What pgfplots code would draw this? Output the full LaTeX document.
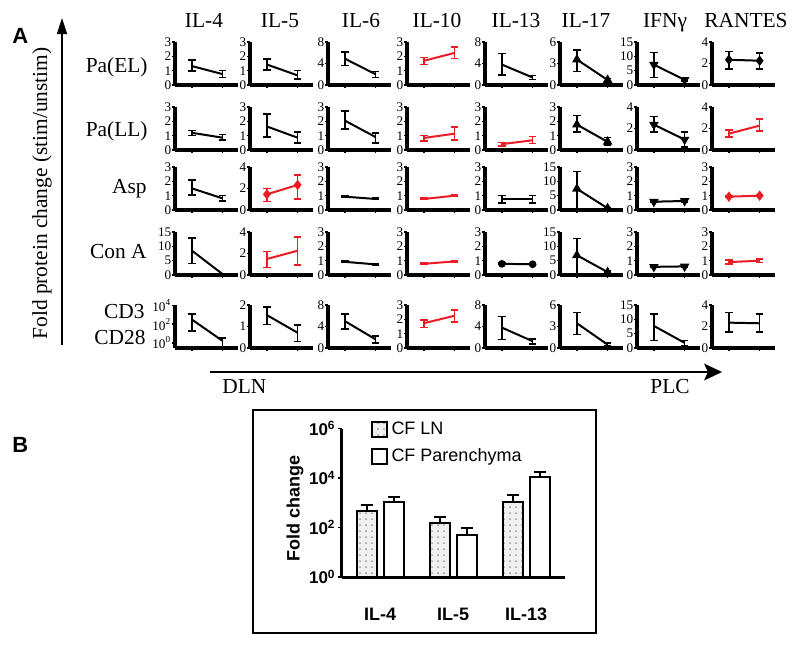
\documentclass[border=0pt]{standalone}
\usepackage{fontspec}
\setmainfont{Liberation Serif}
\setsansfont{Liberation Sans}
\usepackage{pgfplots}
\pgfplotsset{compat=1.18}
\usetikzlibrary{patterns,arrows.meta}
\definecolor{myred}{RGB}{236,28,36}

\pgfplotsset{
 smallax/.style={
  scale only axis, width=31.5pt, height=21.5pt, anchor=south west,
  axis lines=left, axis line style={-, line width=1.6pt},
  xmin=0.45, xmax=2.5, ymin=0, clip=false,
  xtick={1,2}, xticklabels={},
  tick align=outside, major tick length=1.5pt,
  every tick/.style={black, line width=0.8pt},
  yticklabel style={font=\fontsize{6.6}{7}\selectfont, inner sep=0.2pt},
  /pgf/number format/assume math mode=true,
 },
 dat/.style={line width=1pt, mark size=1.8pt, mark options={solid},
   error bars/y dir=both, error bars/y explicit,
   error bars/error bar style={line width=0.8pt, solid},
   error bars/error mark options={rotate=90, mark size=1.8pt, line width=0.8pt}},
 tdown/.style={mark=triangle*, mark options={rotate=180}},
}
\newcommand{\pnl}[6]{%
 \begin{axis}[smallax, at={(#1*0.5pt,-#2*0.5pt)}, ymax=#3, ytick={#4}]
 \addplot[dat, #5] coordinates {#6};
 \end{axis}}

\begin{document}
\begin{tikzpicture}
\path[use as bounding box] (0,0) rectangle (400pt,-322.5pt);

% ---------- Panel A texts ----------
\node[anchor=base west, font=\sffamily\bfseries\fontsize{11}{12}\selectfont, inner sep=0pt] at (6pt,-21.5pt) {A};
\node[anchor=base west, font=\sffamily\bfseries\fontsize{11}{12}\selectfont, inner sep=0pt] at (6pt,-226pt) {B};

\begin{scope}[every node/.style={font=\fontsize{10.7}{12}\selectfont, inner sep=0pt}]
\node[anchor=base] at (102pt,-13.5pt) {IL-4};
\node[anchor=base] at (140pt,-13.5pt) {IL-5};
\node[anchor=base] at (180.5pt,-13.5pt) {IL-6};
\node[anchor=base] at (218.5pt,-13.5pt) {IL-10};
\node[anchor=base] at (258pt,-13.5pt) {IL-13};
\node[anchor=base] at (293pt,-13.5pt) {IL-17};
\node[anchor=base] at (332.5pt,-13.5pt) {IFNγ};
\node[anchor=base] at (373pt,-13.5pt) {RANTES};
\node[anchor=base east] at (74pt,-36pt) {Pa(EL)};
\node[anchor=base east] at (74pt,-68pt) {Pa(LL)};
\node[anchor=base east] at (73.5pt,-96.5pt) {Asp};
\node[anchor=base east] at (73.5pt,-129pt) {Con A};
\node[anchor=base east] at (72.5pt,-159pt) {CD3};
\node[anchor=base east] at (73pt,-172pt) {CD28};
\node[rotate=90] at (21pt,-96.75pt) {Fold protein change (stim/unstim)};
\node[anchor=base west] at (111pt,-196.5pt) {DLN};
\node[anchor=base west] at (325pt,-196.5pt) {PLC};
\end{scope}
\draw[line width=0.75pt, -{Triangle[length=8pt,width=5pt]}] (31pt,-172.5pt) -- (31pt,-9pt);
\draw[line width=0.75pt, -{Stealth[length=9pt,width=8.5pt,inset=2pt]}] (105pt,-186pt) -- (361pt,-186pt);

% ---------- Row 1: Pa(EL) ----------
\pnl{175}{85}{3}{0,1,2,3}{black}{(1,1.32) += (0,0.41) -= (0,0.35) (2,0.76) += (0,0.24) -= (0,0.23)}
\pnl{250}{85}{3}{0,1,2,3}{black}{(1,1.43) += (0,0.39) -= (0,0.39) (2,0.67) += (0,0.33) -= (0,0.27)}
\pnl{328}{85}{8}{0,4,8}{black}{(1,4.9) += (0,1.25) -= (0,1.3) (2,2.0) += (0,0.5) -= (0,0.6)}
\pnl{407}{85}{3}{0,1,2,3}{myred}{(1,1.69) += (0,0.23) -= (0,0.26) (2,2.24) += (0,0.41) -= (0,0.39)}
\pnl{485}{85}{8}{0,4,8}{black}{(1,3.8) += (0,2.05) -= (0,1.95) (2,1.4) += (0,0.4) -= (0,0.35)}
\pnl{560}{85}{6}{0,3,6}{black, mark=triangle*}{(1,3.55) += (0,1.35) -= (0,1.65) (2,0.7) += (0,0.2) -= (0,0.2)}
\pnl{637}{85}{15}{0,5,10,15}{black, tdown}{(1,7.1) += (0,4.2) -= (0,4.5) (2,1.8) += (0,0.4) -= (0,0.4)}
\pnl{712}{85}{4}{0,2,4}{black, mark=diamond*}{(1,2.35) += (0,0.75) -= (0,0.85) (2,2.26) += (0,0.7) -= (0,0.76)}

% ---------- Row 2: Pa(LL) ----------
\pnl{175}{150}{3}{0,1,2,3}{black}{(1,1.2) += (0,0.16) -= (0,0.18) (2,0.86) += (0,0.21) -= (0,0.18)}
\pnl{250}{150}{3}{0,1,2,3}{black}{(1,1.64) += (0,0.86) -= (0,0.74) (2,0.86) += (0,0.39) -= (0,0.36)}
\pnl{328}{150}{3}{0,1,2,3}{black}{(1,2.05) += (0,0.68) -= (0,0.57) (2,0.9) += (0,0.3) -= (0,0.4)}
\pnl{407}{150}{3}{0,1,2,3}{myred}{(1,0.84) += (0,0.16) -= (0,0.2) (2,1.14) += (0,0.46) -= (0,0.46)}
\pnl{485}{150}{3}{0,1,2,3}{myred}{(1,0.41) += (0,0.11) -= (0,0.11) (2,0.68) += (0,0.27) -= (0,0.23)}
\pnl{560}{150}{3}{0,1,2,3}{black, mark=triangle*}{(1,1.77) += (0,0.63) -= (0,0.52) (2,0.57) += (0,0.29) -= (0,0.23)}
\pnl{637}{150}{4}{0,2,4}{black, tdown}{(1,2.36) += (0,0.74) -= (0,0.69) (2,0.97) += (0,0.7) -= (0,0.67)}
\pnl{712}{150}{4}{0,2,4}{myred}{(1,1.52) += (0,0.36) -= (0,0.32) (2,2.27) += (0,0.61) -= (0,0.51)}

% ---------- Row 3: Asp ----------
\pnl{175}{210}{3}{0,1,2,3}{black}{(1,1.51) += (0,0.59) -= (0,0.46) (2,0.81) += (0,0.19) -= (0,0.18)}
\pnl{250}{210}{4}{0,2,4}{myred, mark=diamond*}{(1,1.46) += (0,0.54) -= (0,0.68) (2,2.33) += (0,0.92) -= (0,1.31)}
\pnl{328}{210}{3}{0,1,2,3}{black}{(1,0.93) += (0,0.05) -= (0,0.05) (2,0.77) += (0,0.05) -= (0,0.05)}
\pnl{407}{210}{3}{0,1,2,3}{myred}{(1,0.77) += (0,0.05) -= (0,0.05) (2,1.0) += (0,0.05) -= (0,0.05)}
\pnl{485}{210}{3}{0,1,2,3}{black}{(1,0.77) += (0,0.23) -= (0,0.26) (2,0.77) += (0,0.23) -= (0,0.26)}
\pnl{560}{210}{15}{0,5,10,15}{black, mark=triangle*}{(1,7.4) += (0,6.1) -= (0,7.4) (2,0.6) += (0,0.3) -= (0,0.3)}
\pnl{637}{210}{3}{0,1,2,3}{black, tdown}{(1,0.58) += (0,0.05) -= (0,0.05) (2,0.63) += (0,0.08) -= (0,0.08)}
\pnl{712}{210}{3}{0,1,2,3}{myred, mark=diamond*}{(1,0.93) += (0,0.05) -= (0,0.05) (2,1.0) += (0,0.06) -= (0,0.06)}

% ---------- Row 4: Con A ----------
\pnl{175}{275}{15}{0,5,10,15}{black}{(1,8.5) += (0,4.5) -= (0,4.5) (2,0.3) += (0,0.2) -= (0,0.2)}
\pnl{250}{275}{4}{0,2,4}{myred}{(1,1.49) += (0,0.68) -= (0,0.78) (2,2.26) += (0,1.29) -= (0,1.33)}
\pnl{328}{275}{3}{0,1,2,3}{black}{(1,0.92) += (0,0.05) -= (0,0.05) (2,0.74) += (0,0.05) -= (0,0.05)}
\pnl{407}{275}{3}{0,1,2,3}{myred}{(1,0.78) += (0,0.05) -= (0,0.05) (2,0.95) += (0,0.05) -= (0,0.05)}
\pnl{485}{275}{3}{0,1,2,3}{black, mark=*, mark size=1.4pt}{(1,0.78) += (0,0.06) -= (0,0.06) (2,0.75) += (0,0.06) -= (0,0.06)}
\pnl{560}{275}{15}{0,5,10,15}{black, mark=triangle*}{(1,6.9) += (0,5.8) -= (0,6.9) (2,1.0) += (0,0.3) -= (0,0.3)}
\pnl{637}{275}{3}{0,1,2,3}{black, tdown}{(1,0.57) += (0,0.05) -= (0,0.05) (2,0.6) += (0,0.06) -= (0,0.06)}
\pnl{712}{275}{3}{0,1,2,3}{myred}{(1,0.9) += (0,0.15) -= (0,0.12) (2,1.0) += (0,0.12) -= (0,0.12)}

% ---------- Row 5: CD3/CD28 ----------
\begin{axis}[smallax, at={(87.5pt,-174pt)}, ymode=log, ymin=0.275, ymax=11480,
  ytick={1,100,10000}, yticklabels={10\textsuperscript{0},10\textsuperscript{2},10\textsuperscript{4}}, yminorticks=false]
\addplot[dat, black] coordinates {(1,316) += (0,943) -= (0,298) (2,1.58) += (0,1.58) -= (0,1.18)};
\end{axis}
\pnl{250}{348}{2}{0,1,2}{black}{(1,1.53) += (0,0.37) -= (0,0.43) (2,0.71) += (0,0.35) -= (0,0.4)}
\pnl{328}{348}{8}{0,4,8}{black}{(1,5.0) += (0,1.3) -= (0,1.5) (2,1.6) += (0,0.6) -= (0,0.7)}
\pnl{407}{348}{3}{0,1,2,3}{myred}{(1,1.73) += (0,0.23) -= (0,0.31) (2,2.25) += (0,0.42) -= (0,0.43)}
\pnl{485}{348}{8}{0,4,8}{black}{(1,3.8) += (0,2.05) -= (0,2.2) (2,1.26) += (0,0.44) -= (0,0.46)}
\pnl{560}{348}{6}{0,3,6}{black}{(1,3.45) += (0,1.5) -= (0,1.55) (2,0.47) += (0,0.23) -= (0,0.23)}
\pnl{637}{348}{15}{0,5,10,15}{black}{(1,7.7) += (0,4.1) -= (0,5.1) (2,1.8) += (0,0.8) -= (0,0.9)}
\pnl{712}{348}{4}{0,2,4}{black}{(1,2.36) += (0,0.94) -= (0,0.86) (2,2.3) += (0,0.85) -= (0,0.8)}

% ---------- Panel B ----------
\draw[line width=1pt] (126.5pt,-205pt) rectangle (298pt,-316.5pt);
\node[rotate=90, font=\sffamily\bfseries\fontsize{9}{10}\selectfont] at (147.5pt,-254pt) {Fold change};
\begin{axis}[at={(171pt,-288.5pt)}, anchor=south west, scale only axis,
  width=111.5pt, height=74.25pt,
  ymode=log, ymin=1, ymax=1e6, xmin=-0.52, xmax=2.53,
  axis lines=left, axis line style={-, line width=1.5pt},
  ytick={1,100,10000,1000000},
  yticklabels={10\textsuperscript{0},10\textsuperscript{2},10\textsuperscript{4},10\textsuperscript{6}},
  yminorticks=false,
  yticklabel style={font=\sffamily\bfseries\fontsize{8.5}{9}\selectfont, inner sep=1pt},
  xtick={0,1,2}, xticklabels={IL-4,IL-5,IL-13},
  xticklabel style={font=\sffamily\bfseries\fontsize{9}{10}\selectfont, yshift=-10pt},
  x tick style={draw=none},
  y tick style={black, line width=0.8pt},
  tick align=outside, major tick length=2pt,
  ybar=3.5pt, bar width=10pt,
  legend style={at={(0.1,1.1)}, anchor=north west, draw=none, fill=none,
    font=\sffamily\fontsize{9}{10}\selectfont, row sep=1.5pt},
  legend cell align=left,
  legend image code/.code={\draw[#1, line width=1pt] (0pt,-3.7pt) rectangle (7.4pt,3.7pt);},
  error bars/y dir=plus, error bars/y explicit,
  error bars/error bar style={line width=1pt, black},
  error bars/error mark options={rotate=90, mark size=3pt, line width=1pt, black},
]
\addplot[draw=black, line width=1pt, fill=gray!12, postaction={pattern=dots, pattern color=gray!80}]
  coordinates {(0,468) += (0,326) (1,151) += (0,112) (2,1072) += (0,970)};
\addplot[draw=black, line width=1pt, fill=white]
  coordinates {(0,1072) += (0,626) (1,50) += (0,45.5) (2,10965) += (0,6413)};
\legend{CF LN, CF Parenchyma}
\end{axis}
\end{tikzpicture}
\end{document}
